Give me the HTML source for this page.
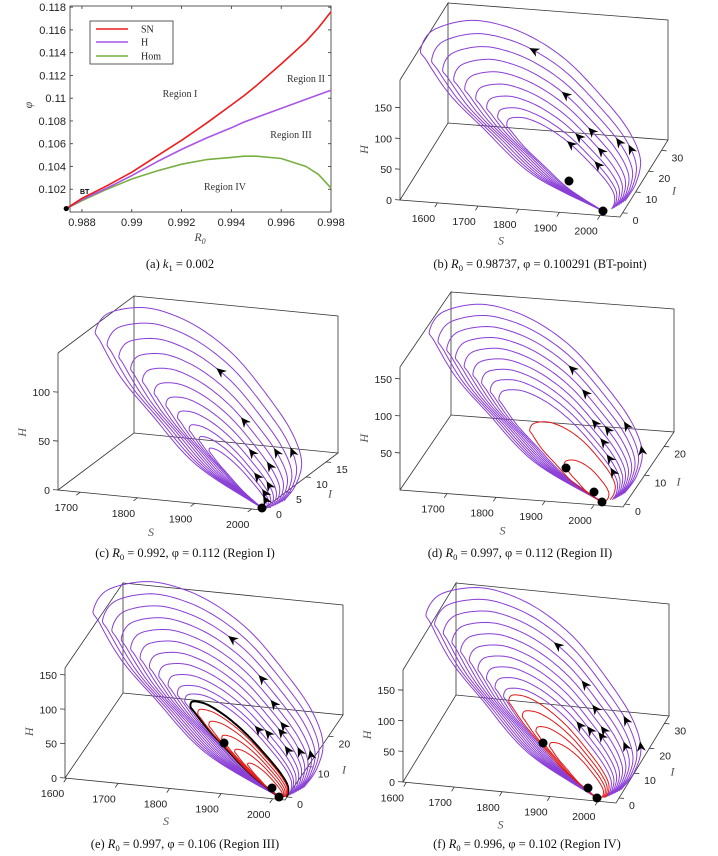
<!DOCTYPE html>
<html><head><meta charset="utf-8"><style>
html,body{margin:0;padding:0;background:#fff;}
svg{display:block;}
text{font-family:"Liberation Sans",sans-serif;}
.serif{font-family:"Liberation Serif",serif;}
</style></head><body>
<svg id="fig" width="718" height="856" viewBox="0 0 718 856" xmlns="http://www.w3.org/2000/svg"></svg>
<script>
// ---------- Panel (a) data ----------
const aR0  = [0.98737,0.988,0.989,0.990,0.991,0.992,0.993,0.994,0.9945,0.995,0.996,0.997,0.9975,0.998];
const aSN  = [0.1003,0.1012,0.1023,0.1035,0.1049,0.1063,0.1078,0.1094,0.1102,0.1111,0.1130,0.1150,0.1162,0.1176];
const aH   = [0.1003,0.1011,0.1021,0.1032,0.1044,0.1055,0.1065,0.1074,0.1079,0.1083,0.1091,0.1099,0.1103,0.1107];
const aHom = [0.1003,0.1010,0.1020,0.1029,0.1036,0.1042,0.1046,0.1048,0.1049,0.1049,0.1047,0.1040,0.1033,0.1021];
const aXTicks = [0.988,0.99,0.992,0.994,0.996,0.998];
const aXTickLabels = ["0.988","0.99","0.992","0.994","0.996","0.998"];
const aYTicks = [0.102,0.104,0.106,0.108,0.11,0.112,0.114,0.116,0.118];
const aYTickLabels = ["0.102","0.104","0.106","0.108","0.11","0.112","0.114","0.116","0.118"];

// ---------- trajectory template (along, perp) relative to equilibrium, outer orbit ----------
const tplAlong = [0,0.312,0.593,0.785,0.948,0.997,1.013,0.937,0.825,0.689,0.523,0.329,0.156,0.033,-0.023,-0.039];
const tplPerp  = [0,-0.083,-0.078,-0.068,-0.029,-0.011,0.079,0.203,0.282,0.333,0.357,0.345,0.318,0.263,0.176,0.091];

// ---------- 3D panel loop sizes (relative apex reach) ----------
const loopsB = [1,0.94,0.88,0.82,0.76,0.7,0.64,0.58,0.53];
const loopsC = [1,0.93,0.86,0.79,0.72,0.65,0.58,0.51,0.44,0.38,0.32];
const loopsD = [1,0.95,0.9,0.85,0.8,0.75,0.7,0.65,0.6];
const loopsE = [1,0.95,0.9,0.85,0.8,0.75,0.7,0.65,0.6,0.55,0.51];
const loopsF = [1,0.95,0.9,0.85,0.8,0.75,0.7,0.65,0.6,0.55];
const redD = [0.42,0.22];
const redE = [0.44,0.38,0.31,0.24,0.17];
const redF = [0.52,0.44,0.36,0.28];
const blackE = [0.48];

const svg = document.getElementById('fig');
const NS = 'http://www.w3.org/2000/svg';
function mk(tag, attrs, parent){
  const e = document.createElementNS(NS, tag);
  for (const k in attrs) e.setAttribute(k, attrs[k]);
  (parent||svg).appendChild(e);
  return e;
}

// ---------- Panel (a) ----------
const ga = mk('g', {});


const ax = {x0:70, x1:331, y0:212, y1:6, xmin:0.98752, xmax:0.998, ymin:0.1000, ymax:0.1181};
const xs = v => ax.x0 + (v-ax.xmin)/(ax.xmax-ax.xmin)*(ax.x1-ax.x0);
const ys = v => ax.y0 - (v-ax.ymin)/(ax.ymax-ax.ymin)*(ax.y0-ax.y1);
const frame = mk('rect', {x:ax.x0, y:ax.y1, width:ax.x1-ax.x0, height:ax.y0-ax.y1, fill:'none', stroke:'#333', 'stroke-width':0.8}, ga);


aXTicks.forEach((t,i)=>{
  const x = xs(t);
  mk('line',{x1:x,y1:ax.y0,x2:x,y2:ax.y0-3,stroke:'#333','stroke-width':0.8},ga);
  mk('line',{x1:x,y1:ax.y1,x2:x,y2:ax.y1+3,stroke:'#333','stroke-width':0.8},ga);
  const tx = mk('text',{x:x,y:ax.y0+14,'font-size':11,'text-anchor':'middle',fill:'#222'},ga);
  tx.textContent = aXTickLabels[i];
  
  
});
aYTicks.forEach((t,i)=>{
  const y = ys(t);
  mk('line',{x1:ax.x0,y1:y,x2:ax.x0+3,y2:y,stroke:'#333','stroke-width':0.8},ga);
  mk('line',{x1:ax.x1,y1:y,x2:ax.x1-3,y2:y,stroke:'#333','stroke-width':0.8},ga);
  const tx = mk('text',{x:ax.x0-4,y:y+4,'font-size':11,'text-anchor':'end',fill:'#222'},ga);
  tx.textContent = aYTickLabels[i];
  
  
});
function series(vals, color, name){
  const d = aR0.map((r,i)=>(i?'L':'M')+xs(r).toFixed(1)+','+ys(vals[i]).toFixed(1)).join(' ');
  const p = mk('path',{d:d,fill:'none',stroke:color,'stroke-width':1.6,'stroke-linejoin':'round'},ga);
  
  
}
series(aHom,'#77b041','hom-curve');
series(aH,'#a855e8','hopf-curve');
series(aSN,'#ee1c1c','saddle-node-curve');
const bt = mk('circle',{cx:xs(aR0[0]),cy:ys(aSN[0]),r:2.6,fill:'#000'},ga);


const btl = mk('text',{x:80,y:194,'font-size':7,'font-weight':'bold',fill:'#000'},ga);
btl.textContent='BT';


[['Region I',180,97],['Region II',306,82],['Region III',291,138],['Region IV',225,190]].forEach(r=>{
  const t = mk('text',{x:r[1],y:r[2],'font-size':10,'text-anchor':'middle',fill:'#333',class:'serif'},ga);
  t.textContent=r[0];
  
  
});
const lg = mk('g',{},ga);


mk('rect',{x:90,y:21,width:83,height:43,fill:'#fff',stroke:'#333','stroke-width':0.8},lg);
[['SN','#ee1c1c',29],['H','#a855e8',42],['Hom','#77b041',56]].forEach(e=>{
  const g = mk('g',{},lg);
  
  
  mk('line',{x1:96,y1:e[2],x2:128,y2:e[2],stroke:e[1],'stroke-width':1.6},g);
  const t = mk('text',{x:141,y:e[2]+3.5,'font-size':10,fill:'#222',class:'serif'},g);
  t.textContent=e[0];
});
const xl = mk('text',{x:200,y:241,'font-size':12,'font-style':'italic',fill:'#444',class:'serif','text-anchor':'middle'},ga);
xl.innerHTML='R<tspan font-size="8" dy="3">0</tspan>';


const yl = mk('text',{x:0,y:0,'font-size':12,'font-style':'italic',fill:'#444',class:'serif','text-anchor':'middle',transform:'translate(32,105) rotate(-90)'},ga);
yl.textContent='φ';



// ---------- 3D panels ----------
const ARB = [[1,9],[3,10],[4,11],[5,11.5],[6,10.5],[7,11.5],[8,10],[2,12],[1,12.5]];
const panels = [
 {name:'panel-b-phase-portrait', O:[400,200], S:[220,17], I:[48,-77], H:[0,-120], sr:[1508,2049], ir:[-2,35], hr:[0,195],
  sT:[1600,1700,1800,1900,2000], iT:[0,10,20,30], hT:[0,50,100,150], E:[603,211], A:[422,47], W:1, loops:loopsB,
  eq:[[603,211],[569,181]], arrows:ARB, red:[], black:[], redW:0},
 {name:'panel-c-phase-portrait', O:[58,490], S:[204,20], I:[76,-57], H:[0,-137], sr:[1661,2018], ir:[-1,18], hr:[0,140],
  sT:[1700,1800,1900,2000], iT:[0,5,10,15], hT:[0,50,100], E:[262,508], A:[97,328], W:0.95, loops:loopsC,
  eq:[[262,508]], arrows:[[2,9.5],[4,10.5],[6,11],[8,11.5],[3,12],[5,12],[7,12.5],[1,12.5],[9,12.5],[10,13]], red:[], black:[], redW:0},
 {name:'panel-d-phase-portrait', O:[400,490], S:[223,17], I:[51,-75], H:[0,-123], sr:[1604,2059], ir:[-1,25], hr:[0,166],
  sT:[1700,1800,1900,2000], iT:[0,10,20], hT:[50,100,150], E:[602,502], A:[431,328], W:1, loops:loopsD,
  eq:[[602,502],[594,492],[566,468]], arrows:[[2,10],[3,10.5],[5,11],[6,11.5],[7,12],[4,11.5],[1,12],[8,12.5],[0,13]], red:redD, black:[], redW:0.8},
 {name:'panel-e-phase-portrait', O:[65,778], S:[220,22], I:[58,-85], H:[0,-110], sr:[1597,2024], ir:[-1,27], hr:[0,160],
  sT:[1600,1700,1800,1900,2000], iT:[0,10,20], hT:[0,50,100,150], E:[279,797], A:[95,607], W:1, loops:loopsE,
  eq:[[279,797],[272,788],[224,743]], arrows:[[2,9.5],[3,10.5],[4,11],[5,11.5],[6,11.5],[8,11],[9,10.5],[7,12],[5,12.5],[3,13]], red:redE, black:blackE, redW:0.45},
 {name:'panel-f-phase-portrait', O:[403,782], S:[213,21], I:[53,-87], H:[0,-112], sr:[1593,2038], ir:[-2,33], hr:[0,183],
  sT:[1600,1700,1800,1900,2000], iT:[0,10,20,30], hT:[0,50,100,150], E:[597,798], A:[428,610], W:1, loops:loopsF,
  eq:[[597,798],[588,788],[543,743]], arrows:[[2,9.5],[3,10.5],[4,11],[5,11.5],[6,11.5],[7,11],[8,10.5],[1,12],[3,12.5],[0,13]], red:redF, black:[], redW:0.55}
];
const captions = [
 ['(a)  ', 'k', '1', ' = 0.002', 180, 268],
 ['(b)  ', 'R', '0', ' = 0.98737, φ = 0.100291 (BT-point)', 540, 268],
 ['(c)  ', 'R', '0', ' = 0.992, φ = 0.112 (Region I)', 185, 557],
 ['(d)  ', 'R', '0', ' = 0.997, φ = 0.112 (Region II)', 520, 557],
 ['(e)  ', 'R', '0', ' = 0.997, φ = 0.106 (Region III)', 185, 848],
 ['(f)  ', 'R', '0', ' = 0.996, φ = 0.102 (Region IV)', 527, 848]
];

const SEG = 10;
function loopPts(P, size, wf){
  const E=P.E, A=P.A;
  const dx=(A[0]-E[0]), dy=(A[1]-E[1]);
  const L=Math.hypot(dx,dy); const ex=dx/L, ey=dy/L; const nx=-dy/L, ny=dx/L;
  const ctrl = tplAlong.map((a,i)=>{
    const aa=a*L*size, pp=tplPerp[i]*L*size*wf;
    return [E[0]+ex*aa+nx*pp, E[1]+ey*aa+ny*pp];
  });
  const pts=[];
  const n=ctrl.length;
  for(let i=0;i<n-1;i++){
    const p0=ctrl[Math.max(0,i-1)], p1=ctrl[i], p2=ctrl[i+1], p3=ctrl[Math.min(n-1,i+2)];
    for(let k=0;k<SEG;k++){
      const t=k/SEG, t2=t*t, t3=t2*t;
      const f=(a,b,c,d)=>0.5*((2*b)+(-a+c)*t+(2*a-5*b+4*c-d)*t2+(-a+3*b-3*c+d)*t3);
      pts.push([f(p0[0],p1[0],p2[0],p3[0]), f(p0[1],p1[1],p2[1],p3[1])]);
    }
  }
  pts.push(ctrl[n-1]);
  return pts;
}
function drawPanel(P){
  const g = mk('g',{});
  
  
  const O=P.O,S=P.S,I=P.I,H=P.H;
  const add=(a,b)=>[a[0]+b[0],a[1]+b[1]];
  const OI=add(O,I), OS=add(O,S), OSI=add(OS,I), OH=add(O,H), OIH=add(OI,H), OSIH=add(OSI,H);
  const box = mk('path',{fill:'none',stroke:'#333','stroke-width':0.8},g);
  box.setAttribute('d',`M${OH[0]},${OH[1]} L${O[0]},${O[1]} L${OS[0]},${OS[1]} L${OSI[0]},${OSI[1]} L${OI[0]},${OI[1]} L${O[0]},${O[1]} M${OI[0]},${OI[1]} L${OIH[0]},${OIH[1]} L${OH[0]},${OH[1]} M${OIH[0]},${OIH[1]} L${OSIH[0]},${OSIH[1]} L${OSI[0]},${OSI[1]}`);
  
  
  const iL=Math.hypot(I[0],I[1]);
  P.sT.forEach(t=>{
    const f=(t-P.sr[0])/(P.sr[1]-P.sr[0]);
    const x=O[0]+S[0]*f, y=O[1]+S[1]*f;
    mk('line',{x1:x,y1:y,x2:x-I[0]/iL*5,y2:y-I[1]/iL*5,stroke:'#333','stroke-width':0.8},g);
    const tx=mk('text',{x:x-14,y:y+19,'font-size':10.5,'text-anchor':'middle',fill:'#222'},g);
    tx.textContent=t;
    
    
  });
  P.iT.forEach(t=>{
    const f=(t-P.ir[0])/(P.ir[1]-P.ir[0]);
    const x=OS[0]+I[0]*f, y=OS[1]+I[1]*f;
    mk('line',{x1:x,y1:y,x2:x+5,y2:y+0.4,stroke:'#333','stroke-width':0.8},g);
    const tx=mk('text',{x:x+10,y:y+11,'font-size':10.5,'text-anchor':'start',fill:'#222'},g);
    tx.textContent=t;
    
    
  });
  P.hT.forEach(t=>{
    const f=(t-P.hr[0])/(P.hr[1]-P.hr[0]);
    const x=O[0], y=O[1]+H[1]*f;
    mk('line',{x1:x,y1:y,x2:x-5,y2:y-0.4,stroke:'#333','stroke-width':0.8},g);
    const tx=mk('text',{x:x-8,y:y+4,'font-size':10.5,'text-anchor':'end',fill:'#222'},g);
    tx.textContent=t;
    
    
  });
  const sl=mk('text',{x:O[0]+S[0]*0.5-12,y:O[1]+S[1]*0.5+36,'font-size':12,'font-style':'italic',fill:'#555',class:'serif'},g);
  sl.textContent='S';
  
  
  const il=mk('text',{x:OS[0]+I[0]*0.5+28,y:OS[1]+I[1]*0.5+16,'font-size':12,'font-style':'italic',fill:'#555',class:'serif'},g);
  il.textContent='I';
  
  
  const hy=O[1]+H[1]*0.42;
  const hl=mk('text',{x:0,y:0,'font-size':12,'font-style':'italic',fill:'#555',class:'serif','text-anchor':'middle',transform:`translate(${O[0]-32},${hy}) rotate(-90)`},g);
  hl.textContent='H';
  
  
  const toD=pts=>pts.map((p,i)=>(i?'L':'M')+p[0].toFixed(1)+','+p[1].toFixed(1)).join(' ');
  const allLoops=[];
  P.loops.forEach((s,k)=>{
    const pts=loopPts(P,s,P.W*Math.pow(s,0.8));
    allLoops.push(pts);
    const p=mk('path',{d:toD(pts),fill:'none',stroke:'#8a3fd6','stroke-width':1},g);
    
    
  });
  P.black.forEach(s=>{
    const p=mk('path',{d:toD(loopPts(P,s,P.redW)),fill:'none',stroke:'#000','stroke-width':2},g);
    
    
  });
  P.red.forEach(s=>{
    const p=mk('path',{d:toD(loopPts(P,s,P.redW)),fill:'none',stroke:'#e01818','stroke-width':1},g);
    
    
  });
  P.arrows.forEach(a=>{
    const pts=allLoops[a[0]]; if(!pts) return;
    const idx=Math.round(a[1]*SEG);
    const p=pts[idx], q=pts[idx-2];
    const ang=Math.atan2(q[1]-p[1],q[0]-p[0])*180/Math.PI;
    const ar=mk('path',{d:'M6,0 L-4,-4.5 L-1,0 L-4,4.5 Z',fill:'#000',transform:`translate(${p[0].toFixed(1)},${p[1].toFixed(1)}) rotate(${ang.toFixed(1)})`},g);
    
    
  });
  P.eq.forEach(e=>{
    const c=mk('circle',{cx:e[0],cy:e[1],r:4.5,fill:'#000'},g);
    
    
  });
}
panels.forEach(drawPanel);
captions.forEach(c=>{
  const t=mk('text',{x:c[4],y:c[5],'font-size':12.5,'text-anchor':'middle',fill:'#111',class:'serif'});
  t.innerHTML=`${c[0]}<tspan font-style="italic">${c[1]}</tspan><tspan font-size="8.5" dy="3">${c[2]}</tspan><tspan dy="-3">${c[3]}</tspan>`;
  
  
});
</script>
</body></html>
